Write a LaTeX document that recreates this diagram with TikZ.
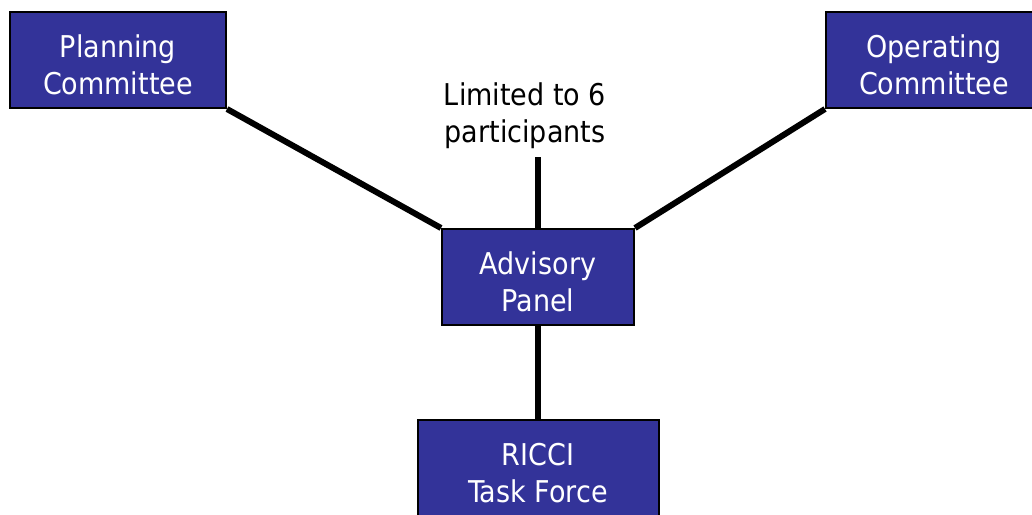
\documentclass[tikz,border=0pt]{standalone}
\usepackage{fontspec}
\setmainfont{DejaVu Sans Condensed}
\usetikzlibrary{backgrounds}
\definecolor{boxblue}{HTML}{333399}
\newcommand{\lowtext}[1]{\raisebox{-9pt}[\height][\depth]{\begin{tabular}{@{}c@{}}#1\end{tabular}}}
\tikzset{
  unitbox/.style={draw=black, line width=2pt, fill=boxblue, text=white, align=center,
    font=\fontsize{30}{37}\selectfont, inner sep=0pt, minimum height=96pt},
  link/.style={line width=6pt, draw=black},
  note/.style={text=black, align=center, font=\fontsize{30}{37}\selectfont, inner sep=0pt}
}
\begin{document}
\begin{tikzpicture}[x=1pt,y=-1pt]
\useasboundingbox (0,0) rectangle (1032,514);
\node[unitbox, minimum width=216pt] (plan) at (118,60) {\lowtext{Planning\\Committee}};
\node[unitbox, minimum width=216pt] (oper) at (934,60) {\lowtext{Operating\\Committee}};
\node[unitbox, minimum width=192pt] (adv) at (538,277) {\lowtext{Advisory\\Panel}};
\node[unitbox, minimum width=241pt] (ricci) at (538,468) {\lowtext{RICCI\\Task Force}};
\node[note] (lim) at (525,116) {Limited to 6\\participants};
\coordinate (limend) at (538,157);
\begin{scope}[on background layer]
\draw[link] (plan.south east) -- (adv.north west);
\draw[link] (oper.south west) -- (adv.north east);
\draw[link] (limend) -- (adv.north);
\draw[link] (adv.south) -- (ricci.north);
\end{scope}
\end{tikzpicture}
\end{document}
